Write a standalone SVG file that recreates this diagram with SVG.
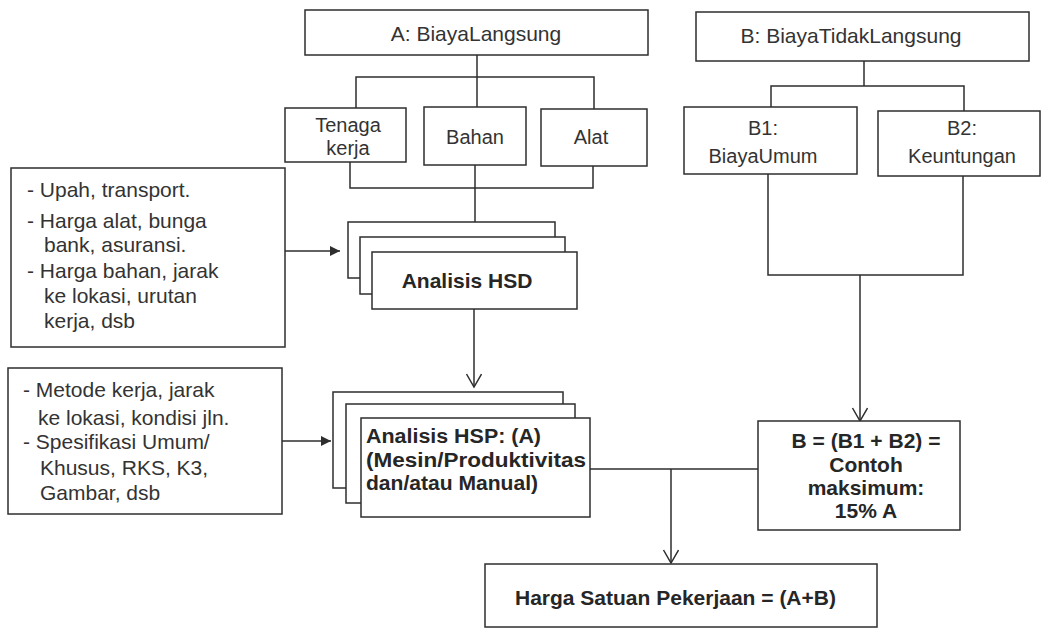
<svg xmlns="http://www.w3.org/2000/svg" width="1045" height="629" viewBox="0 0 1045 629">
<style>
.box{fill:#fff;stroke:#2e2e2e;stroke-width:1.5}
.ln{fill:none;stroke:#2e2e2e;stroke-width:1.5}
.t{font-family:"Liberation Sans",Arial,sans-serif;font-size:21px;fill:#333}
.s{font-size:20px}
.c{text-anchor:middle}
.b{font-family:"Liberation Sans",Arial,sans-serif;font-size:21px;font-weight:bold;fill:#262626}
.h{font-size:20px}
</style>
<defs>
<marker id="open" markerWidth="18" markerHeight="20" refX="14" refY="8" orient="auto" markerUnits="userSpaceOnUse">
<path d="M1,0.5 L14,8 L1,15.5" fill="none" stroke="#2e2e2e" stroke-width="1.5"/>
</marker>
<marker id="solid" markerWidth="12" markerHeight="12" refX="10" refY="5" orient="auto" markerUnits="userSpaceOnUse">
<path d="M0,0 L10,5 L0,10 z" fill="#2e2e2e"/>
</marker>
</defs>
<rect width="1045" height="629" fill="#fff"/>

<g id="connectors">
<path class="ln" d="M477,55 V107"/>
<path class="ln" d="M356,108 V77 H594 V109"/>
<path class="ln" d="M350,162 V188 H593 V166"/>
<path class="ln" d="M475,165 V222"/>
<path class="ln" d="M474,309 V387" marker-end="url(#open)"/>
<path class="ln" d="M285,251 H340" marker-end="url(#solid)"/>
<path class="ln" d="M282,441 H331" marker-end="url(#solid)"/>
<path class="ln" d="M864,61 V86"/>
<path class="ln" d="M771,107 V86 H964 V111"/>
<path class="ln" d="M768,174 V275 H963 V176"/>
<path class="ln" d="M860,275 V421" marker-end="url(#open)"/>
<path class="ln" d="M590,469 H758"/>
<path class="ln" d="M671,469 V563" marker-end="url(#open)"/>
</g>

<g id="nodeA">
<rect class="box" x="305" y="10" width="343" height="45"/>
<text class="t c" x="476" y="41">A: BiayaLangsung</text>
</g>
<g id="nodeTenaga">
<rect class="box" x="285" y="108" width="121" height="54"/>
<text class="t s c" x="348" y="132">Tenaga</text>
<text class="t s c" x="348" y="155">kerja</text>
</g>
<g id="nodeBahan">
<rect class="box" x="424" y="107" width="102" height="58"/>
<text class="t s c" x="475" y="144">Bahan</text>
</g>
<g id="nodeAlat">
<rect class="box" x="541" y="109" width="106" height="57"/>
<text class="t s c" x="591" y="144">Alat</text>
</g>

<g id="nodeB">
<rect class="box" x="696" y="12" width="333" height="49"/>
<text class="t c" x="851" y="43">B: BiayaTidakLangsung</text>
</g>
<g id="nodeB1">
<rect class="box" x="684" y="107" width="173" height="67"/>
<text class="t s c" x="763" y="135">B1:</text>
<text class="t s c" x="763" y="163">BiayaUmum</text>
</g>
<g id="nodeB2">
<rect class="box" x="878" y="111" width="162" height="65"/>
<text class="t s c" x="962" y="135">B2:</text>
<text class="t s c" x="962" y="163">Keuntungan</text>
</g>

<g id="nodeInput1">
<rect class="box" x="11" y="168" width="274" height="179"/>
<text class="t" x="27" y="197">- Upah, transport.</text>
<text class="t" x="27" y="228">- Harga alat, bunga</text>
<text class="t" x="44" y="252">bank, asuransi.</text>
<text class="t" x="27" y="278">- Harga bahan, jarak</text>
<text class="t" x="44" y="303">ke lokasi, urutan</text>
<text class="t" x="44" y="328">kerja, dsb</text>
</g>

<g id="nodeHSD">
<rect class="box" x="348" y="222" width="207" height="56"/>
<rect class="box" x="360" y="237" width="205" height="57"/>
<rect class="box" x="372" y="252" width="205" height="57"/>
<text class="b c" x="467" y="288">Analisis HSD</text>
</g>

<g id="nodeInput2">
<rect class="box" x="8" y="368" width="274" height="146"/>
<text class="t" x="23" y="397">- Metode kerja, jarak</text>
<text class="t" x="38" y="425">ke lokasi, kondisi jln.</text>
<text class="t" x="23" y="449">- Spesifikasi Umum/</text>
<text class="t" x="40" y="475">Khusus, RKS, K3,</text>
<text class="t" x="40" y="500">Gambar, dsb</text>
</g>

<g id="nodeHSP">
<rect class="box" x="333" y="392" width="230" height="96"/>
<rect class="box" x="346" y="404" width="229" height="99"/>
<rect class="box" x="361" y="418" width="229" height="99"/>
<text class="b h" x="366" y="443" textLength="175" lengthAdjust="spacingAndGlyphs">Analisis HSP: (A)</text>
<text class="b h" x="366" y="467" textLength="220" lengthAdjust="spacingAndGlyphs">(Mesin/Produktivitas</text>
<text class="b h" x="366" y="490" textLength="172" lengthAdjust="spacingAndGlyphs">dan/atau Manual)</text>
</g>

<g id="nodeBsum">
<rect class="box" x="758" y="421" width="202" height="109"/>
<text class="b c" x="866" y="448">B = (B1 + B2) =</text>
<text class="b c" x="866" y="472">Contoh</text>
<text class="b c" x="866" y="495">maksimum:</text>
<text class="b c" x="866" y="518">15% A</text>
</g>

<g id="nodeResult">
<rect class="box" x="485" y="564" width="392" height="63"/>
<text class="b" x="515" y="605">Harga Satuan Pekerjaan = (A+B)</text>
</g>
</svg>
